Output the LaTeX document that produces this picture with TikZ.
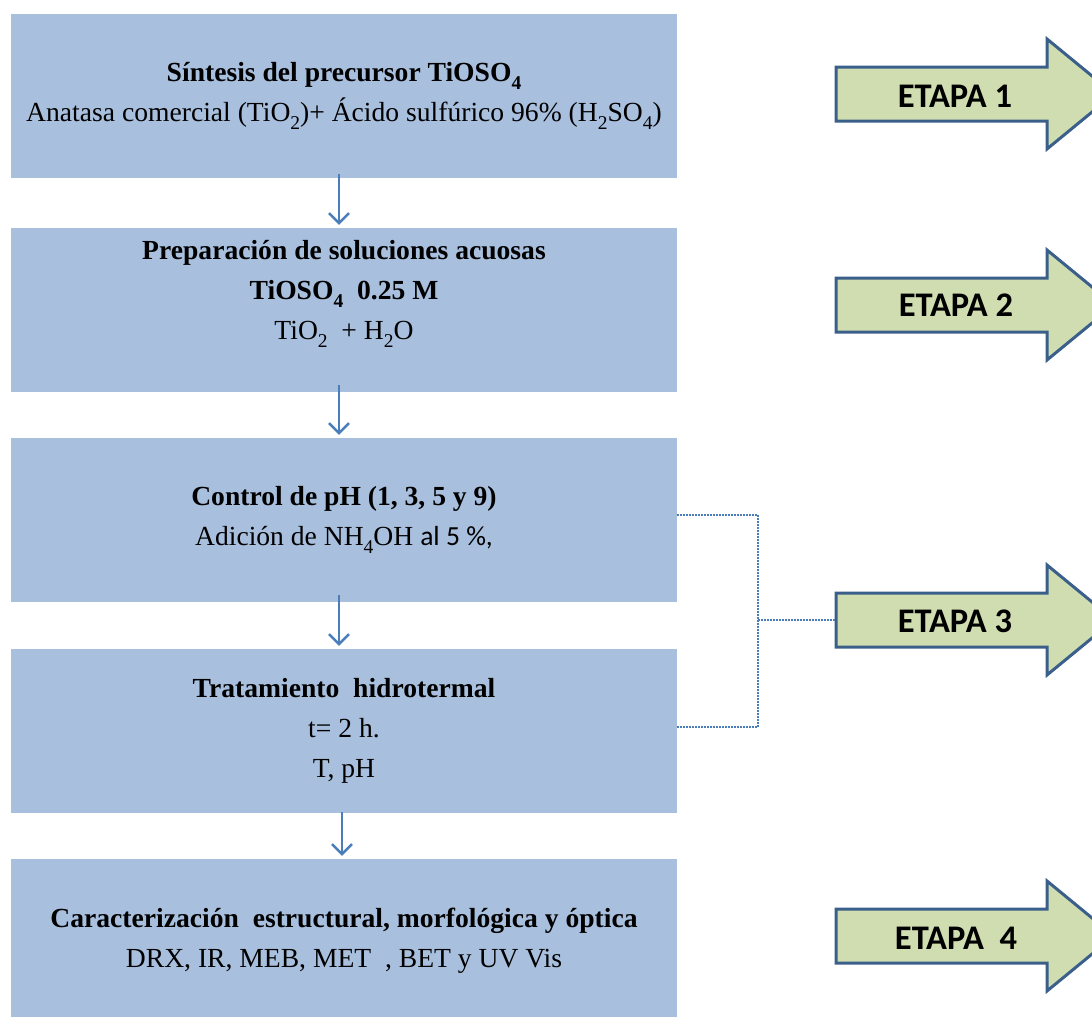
\documentclass[tikz,border=0pt]{standalone}
\usepackage{fontspec}
\setmainfont{Liberation Serif}
\newfontfamily\calibri{Carlito}
\usetikzlibrary{arrows.meta}
\definecolor{boxblue}{HTML}{A8BFDE}
\definecolor{linkblue}{HTML}{4A7EBB}
\definecolor{etgreen}{HTML}{D0DDB0}
\definecolor{etborder}{HTML}{3A5F8B}
\newcommand\lowsub[1]{\raisebox{-0.27em}{\fontsize{19.5}{19.5}\selectfont #1}}
\newcommand\etapashape[1]{%
  \filldraw[etapa] (836,#1-27) -- (1047,#1-27) -- (1047,#1-55) -- (1114,#1)
    -- (1047,#1+55) -- (1047,#1+27) -- (836,#1+27) -- cycle;}
\begin{document}
\begin{tikzpicture}[x=1pt,y=-1pt,
  box/.style={fill=boxblue, minimum width=666pt, minimum height=164pt,
    inner sep=0pt, align=center, font=\fontsize{27.6}{40}\selectfont},
  flow/.style={draw=linkblue, line width=2.5pt, shorten >=3pt,
    -{Straight Barb[length=10pt,width=20pt]}},
  dots/.style={draw=linkblue, line width=1.5pt, dash pattern=on 1.5pt off 1.5pt},
  etapa/.style={fill=etgreen, draw=etborder, line width=3pt, line join=miter},
  etapatext/.style={font=\calibri\bfseries\fontsize{34.5}{40}\selectfont, inner sep=0pt}]
\useasboundingbox (0,0) rectangle (1092,1017);
\clip (0,0) rectangle (1092,1017);

\node[box] (b1) at (344,96) {{\bfseries Síntesis del precursor TiOSO\lowsub{4}}\\
  Anatasa comercial (TiO\lowsub{2})+ Ácido sulfúrico 96\% (H\lowsub{2}SO\lowsub{4})};
\node[box] (b2) at (344,310) {{\bfseries Preparación de soluciones acuosas}\\
  {\bfseries TiOSO\lowsub{4}\ \ 0.25 M}\\
  TiO\lowsub{2} \ + H\lowsub{2}O\\ \mbox{}};
\node[box] (b3) at (344,520) {{\bfseries Control de pH (1, 3, 5 y 9)}\\
  Adición de NH\lowsub{4}OH {\calibri al 5 \%,}};
\node[box] (b4) at (344,731) {{\bfseries Tratamiento\ \ hidrotermal}\\ t= 2 h.\\ T, pH};
\node[box] (b5) at (344,941) {{\bfseries Caracterización\ \ estructural, morfológica y óptica}\\
  DRX, IR, MEB, MET\ \ , BET y UV Vis};

\draw[flow] ([xshift=-5pt,yshift=4pt]b1.south) -- ([xshift=-5pt]b2.north);
\draw[flow] ([xshift=-5pt,yshift=7pt]b2.south) -- ([xshift=-5pt]b3.north);
\draw[flow] ([xshift=-5pt,yshift=7pt]b3.south) -- ([xshift=-5pt]b4.north);
\draw[flow] ([xshift=-2pt,yshift=1pt]b4.south) -- ([xshift=-2pt]b5.north);

\etapashape{94}
\etapashape{305}
\etapashape{620}
\etapashape{936}
\node[etapatext] (e1) at (955,96) {ETAPA 1};
\node[etapatext] (e2) at (956,305) {ETAPA 2};
\node[etapatext] (e3) at (955,621) {ETAPA 3};
\node[etapatext] (e4) at (956,938) {ETAPA\ \ 4};
\coordinate (e3w) at (836,620);
\coordinate (brk) at (758,620);

\draw[dots] ([yshift=5pt]b3.east) -| (brk) |- ([yshift=4pt]b4.east);
\draw[dots] (brk) -- (e3w);
\end{tikzpicture}
\end{document}
